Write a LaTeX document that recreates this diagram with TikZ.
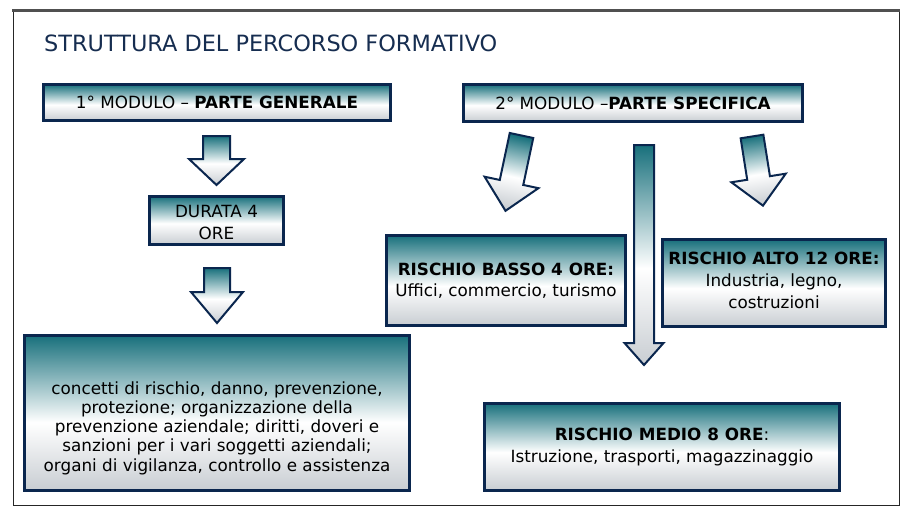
\documentclass[tikz,border=0pt]{standalone}
\usepackage{fontspec}
\setmainfont{DejaVu Sans}
\usetikzlibrary{calc}
\definecolor{bxteal}{RGB}{24,112,124}
\definecolor{bxgray}{RGB}{200,205,210}
\definecolor{bxnavy}{RGB}{10,38,78}
\definecolor{ttl}{RGB}{22,45,80}
\definecolor{framegray}{RGB}{80,80,80}
\pgfdeclareverticalshading{boxsh}{100bp}{color(0bp)=(bxgray); color(25bp)=(bxgray); color(47bp)=(white); color(75bp)=(bxteal); color(100bp)=(bxteal)}
\newcommand\blockarrow[7]{%
  \begin{scope}[shift={(#1,#2)},rotate=#3]
    \path[blk,shading angle=#3] (-#4/2,0) -- (#4/2,0) -- (#4/2,#6) -- (#5/2,#6) -- (0,#6+#7) -- (-#5/2,#6) -- (-#4/2,#6) -- cycle;
  \end{scope}}
\tikzset{
  box/.style={draw=bxnavy, line width=3pt, shade, shading=boxsh, rectangle, inner sep=0pt, align=center,
    font=\fontsize{16.8}{21.5}\selectfont, text=black},
  boxtext/.style={inner sep=0pt, align=center, font=\fontsize{16.8}{19.3}\selectfont, text=black},
  blk/.style={draw=bxnavy, line width=2pt, shade, shading=boxsh, line join=miter},
}
\begin{document}
\begin{tikzpicture}[x=1pt,y=-1pt]
\useasboundingbox (0,0) rectangle (909,516);
\fill[white] (0,0) rectangle (909,516);
% frame
\draw[line width=1pt, black!85] (13,10.5) rectangle (899,505);
\draw[line width=3pt, framegray] (12,10.5) -- (900,10.5);
% title
\node[anchor=base west, inner sep=0pt, text=ttl, font=\fontsize{22.4}{26}\selectfont] (title) at (44,52) {STRUTTURA DEL PERCORSO FORMATIVO};
% boxes
\node[box, minimum width=347pt, minimum height=36pt] (m1) at (217,102.5) {1° MODULO – \textbf{PARTE GENERALE}};
\node[box, minimum width=339pt, minimum height=37pt] (m2) at (633,103) {2° MODULO –\textbf{PARTE SPECIFICA}};
\node[box, minimum width=134pt, minimum height=48pt] (dur) at (216.5,220.5) {};
\node[boxtext, font=\fontsize{16.8}{22}\selectfont] (durtext) at (216.5,222.5) {DURATA 4\\ORE};
\node[box, minimum width=385pt, minimum height=155pt] (gen) at (217,413) {};
\node[boxtext] (gentext) at (217,428) {concetti di rischio, danno, prevenzione,\\protezione; organizzazione della\\prevenzione aziendale; diritti, doveri e\\sanzioni per i vari soggetti aziendali;\\organi di vigilanza, controllo e assistenza};
\node[box, minimum width=239pt, minimum height=90pt] (basso) at (506,280.5) {\textbf{RISCHIO BASSO 4 ORE:}\\Uffici, commercio, turismo};
\node[box, minimum width=223pt, minimum height=87pt] (alto) at (774,283) {};
\node[boxtext, font=\fontsize{16.8}{22}\selectfont] (altotext) at (774,280) {\textbf{RISCHIO ALTO 12 ORE:}\\Industria, legno,\\costruzioni};
\node[box, minimum width=355pt, minimum height=87pt] (medio) at (662,447) {\textbf{RISCHIO MEDIO 8 ORE}:\\Istruzione, trasporti, magazzinaggio};
% block arrows
\blockarrow{216.5}{136}{0}{27}{55}{23}{26}
\blockarrow{217}{268}{0}{26}{52}{24}{31}
\blockarrow{644}{145}{0}{20}{39}{198}{22}
\blockarrow{521.5}{135.5}{-12}{24}{55}{48}{29}
\blockarrow{752}{136.5}{9}{23}{55}{42}{28}
\end{tikzpicture}
\end{document}
